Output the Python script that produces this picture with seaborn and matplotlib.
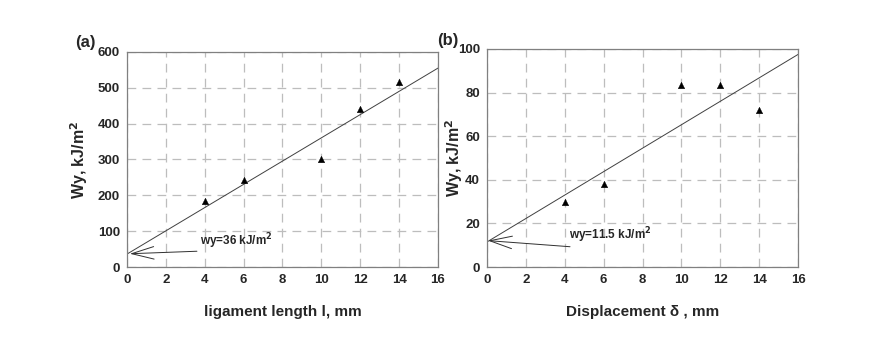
import numpy as np
import pandas as pd
import seaborn as sns
import matplotlib.pyplot as plt

# measured points, panel (a): ligament length
lig_len = [4, 6, 10, 12, 14]
wy_a = [183, 242, 300, 440, 515]
fit_a_x = [0, 16]
fit_a_y = [36, 555]

# measured points, panel (b): displacement
disp = [4, 6, 10, 12, 14]
wy_b = [30, 38, 83.5, 83.5, 72]
fit_b_x = [0, 16]
fit_b_y = [11.5, 97.5]

sns.set_style("white")
plt.rcParams['font.family'] = ['Liberation Sans', 'DejaVu Sans']

fig = plt.figure(figsize=(8.86, 3.40), dpi=100)
ax_a = fig.add_axes([0.1433, 0.2147, 0.3510, 0.6324])
ax_b = fig.add_axes([0.5497, 0.2147, 0.3510, 0.6412])


def draw_panel(ax, x, y, fx, fy, ymax, ystep, note, txt_xy, arr_from, arr_to, ylab_x):
    ax.grid(True, color="#bdbdbd", linestyle=(0, (7, 5)), linewidth=0.9)
    ax.set_axisbelow(True)
    sns.lineplot(x=fx, y=fy, ax=ax, color="#404040", linewidth=0.7)
    sns.scatterplot(x=x, y=y, ax=ax, marker="^", color="black", s=22,
                    edgecolor="black", linewidth=0.3, zorder=3)
    ax.set_xlim(0, 16)
    ax.set_ylim(0, ymax)
    ax.set_xticks(np.arange(0, 17, 2))
    ax.set_yticks(np.arange(0, ymax + 1, ystep))
    for lab in ax.get_xticklabels() + ax.get_yticklabels():
        lab.set_fontweight("bold")
        lab.set_fontsize(9.5)
    ax.tick_params(length=2, color="#808080", pad=3)
    for sp in ax.spines.values():
        sp.set_color("#808080")
        sp.set_linewidth(0.9)
    ax.set_ylabel("Wy, kJ/m$^\\mathbf{2}$", fontsize=11.5, fontweight="bold")
    ax.yaxis.set_label_coords(ylab_x, 0.5)
    ax.annotate("", xy=arr_to, xytext=arr_from,
                arrowprops=dict(arrowstyle="->,head_length=1.6,head_width=0.45",
                                color="#303030", linewidth=0.7, mutation_scale=10,
                                shrinkA=0, shrinkB=0))
    ax.text(txt_xy[0], txt_xy[1], note, fontsize=8.5, fontweight="bold",
            va="center", ha="left")


draw_panel(ax_a, lig_len, wy_a, fit_a_x, fit_a_y, 600, 100,
           "wy=36 kJ/m$^\\mathbf{2}$", (3.78, 73), (3.6, 44), (0.15, 37), -0.118)
draw_panel(ax_b, disp, wy_b, fit_b_x, fit_b_y, 100, 20,
           "wy=11.5 kJ/m$^\\mathbf{2}$", (4.2, 14.7), (4.27, 9.3), (0.05, 12.1), -0.07)

ax_a.set_xlabel("ligament length l, mm", fontsize=11, fontweight="bold", labelpad=14)
ax_b.set_xlabel("Displacement \u03b4 , mm", fontsize=11, fontweight="bold", labelpad=14)

fig.text(75 / 886, 1 - 42 / 340, "(a)", fontsize=12, fontweight="bold", ha="left", va="center")
fig.text(437 / 886, 1 - 40 / 340, "(b)", fontsize=12, fontweight="bold", ha="left", va="center")

fig.savefig("out.png", dpi=100)
